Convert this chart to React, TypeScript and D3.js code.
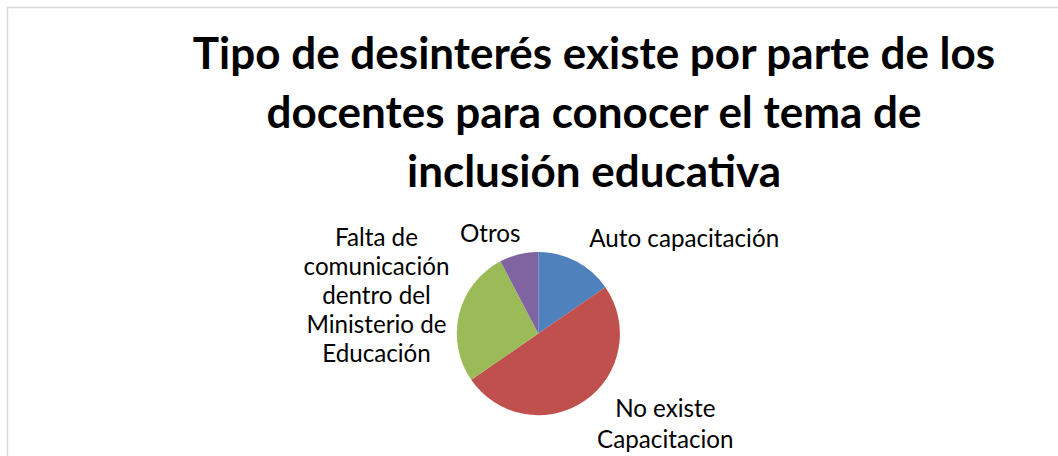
import React from "react";
import * as d3 from "d3";

// ---- Data ----
const categories = [
  "Auto capacitación",
  "No existe Capacitacion",
  "Falta de comunicación dentro del Ministerio de Educación",
  "Otros",
];
const values = [4, 13, 7, 2];
const colors = ["#4F81BD", "#C0504D", "#9BBB59", "#8064A2"];
const labelLines = [
  ["Auto capacitación"],
  ["No existe", "Capacitacion"],
  ["Falta de", "comunicación", "dentro del", "Ministerio de", "Educación"],
  ["Otros"],
];
const titleLines = [
  "Tipo de desinterés existe por parte de los",
  "docentes para conocer el tema de",
  "inclusión educativa",
];

// ---- Layout ----
const W = 1058;
const H = 456;
const cx = 538.3;
const cy = 333.5;
const R = 81.5;
const titleX = 594;
const titleY0 = 68.5;
const titleStep = 59.3;
// label placement relative to pie centre (x offset, first baseline offset, anchor, line step)
const labelLayout = [
  { dx: 51, dy: -87, anchor: "start", step: 28.7 },
  { dx: 127, dy: 83.5, anchor: "middle", step: 30.5 },
  { dx: -161.8, dy: -87.5, anchor: "middle", step: 28.9 },
  { dx: -48, dy: -92, anchor: "middle", step: 28.7 },
];

export default function App() {
  const data = categories.map((c, i) => ({ c, v: values[i], i }));
  const pie = d3
    .pie<{ c: string; v: number; i: number }>()
    .value((d) => d.v)
    .sort(null)
    .startAngle(0)
    .endAngle(2 * Math.PI);
  const arcs = pie(data);
  const arc = d3
    .arc<d3.PieArcDatum<{ c: string; v: number; i: number }>>()
    .innerRadius(0)
    .outerRadius(R);

  return (
    <svg
      width={W}
      height={H}
      style={{ position: "absolute", left: 0, top: 0, display: "block", background: "#fff" }}
    >
      <rect x={0} y={0} width={W} height={H} fill="#fff" />
      <rect
        x={7.5}
        y={7.5}
        width={W + 40}
        height={H + 40}
        fill="#fff"
        stroke="#D9D9D9"
        strokeWidth={1.5}
      />
      <g fontFamily="Lato" fontWeight="bold" fontSize={44} fill="#000" textAnchor="middle">
        {titleLines.map((t, i) => (
          <text key={i} x={titleX} y={titleY0 + i * titleStep}>
            {t}
          </text>
        ))}
      </g>
      <g transform={`translate(${cx},${cy})`}>
        {arcs.map((a, i) => (
          <path key={i} d={arc(a) as string} fill={colors[i]} />
        ))}
      </g>
      <g fontFamily="Lato" fontSize={24.2} fill="#000">
        {labelLines.map((lines, i) => {
          const L = labelLayout[i];
          return (
            <text key={i} textAnchor={L.anchor as any}>
              {lines.map((ln, j) => (
                <tspan key={j} x={cx + L.dx} y={cy + L.dy + j * L.step}>
                  {ln}
                </tspan>
              ))}
            </text>
          );
        })}
      </g>
    </svg>
  );
}
